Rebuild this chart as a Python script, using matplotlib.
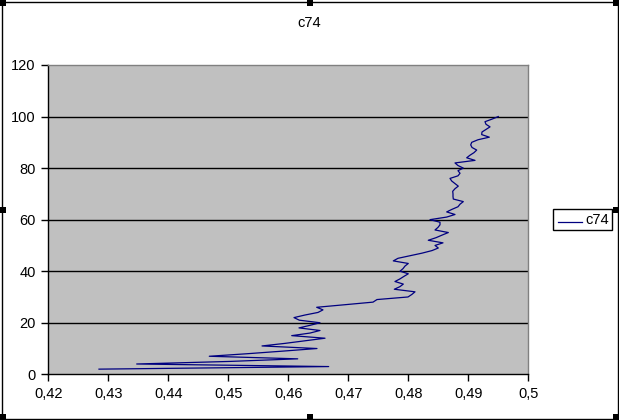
import matplotlib
matplotlib.use("Agg")
import matplotlib.pyplot as plt
from matplotlib.patches import Rectangle
from matplotlib.lines import Line2D

title = "c74"
series_name = "c74"
y_vals = list(range(2, 101))
x_vals = [
    0.42845, 0.46673, 0.43473, 0.4503, 0.46157, 0.44683, 0.45328, 0.45912, 0.46478, 0.45562,
    0.45945, 0.46278, 0.46612, 0.46057, 0.46362, 0.46528, 0.46178, 0.46362, 0.46528, 0.46183,
    0.46095, 0.46278, 0.46495, 0.46578, 0.46473, 0.46945, 0.47412, 0.47478, 0.47995, 0.4806,
    0.48112, 0.47767, 0.4786, 0.47917, 0.47778, 0.4786, 0.47928, 0.48, 0.47862, 0.47912,
    0.47945, 0.48, 0.4775, 0.47828, 0.48028, 0.48228, 0.48395, 0.485, 0.48445, 0.48578,
    0.48333, 0.48462, 0.48562, 0.48667, 0.48445, 0.48495, 0.48528, 0.48528, 0.48362, 0.4864,
    0.48778, 0.4864, 0.48728, 0.48828, 0.48862, 0.48917, 0.4875, 0.48745, 0.48745, 0.4874,
    0.48778, 0.48833, 0.48778, 0.48723, 0.48695, 0.48828, 0.48862, 0.48828, 0.48917, 0.48828,
    0.48778, 0.49112, 0.48973, 0.49028, 0.49095, 0.4914, 0.49062, 0.4904, 0.49057, 0.49162,
    0.4935, 0.49223, 0.49228, 0.49295, 0.49362, 0.49295, 0.49278, 0.49395, 0.495,
]
x_ticks = [0.42, 0.43, 0.44, 0.45, 0.46, 0.47, 0.48, 0.49, 0.5]
x_tick_labels = ["0,42", "0,43", "0,44", "0,45", "0,46", "0,47", "0,48", "0,49", "0,5"]
y_ticks = [0, 20, 40, 60, 80, 100, 120]

plt.rcParams['font.family'] = ['Liberation Sans', 'DejaVu Sans']

W, H = 619, 420
fig = plt.figure(figsize=(W / 100, H / 100), dpi=100)
fig.patch.set_facecolor("white")

L, R, T, B = 48.3, 528.3, 65, 374.3
ax = fig.add_axes([L / W, (H - B) / H, (R - L) / W, (B - T) / H])
ax.set_facecolor("#C0C0C0")
ax.plot(x_vals, y_vals, color="#000080", linewidth=0.9, zorder=3)
ax.set_xlim(0.42, 0.5)
ax.set_ylim(0, 120)
ax.set_xticks(x_ticks)
ax.set_xticklabels(x_tick_labels)
ax.set_yticks(y_ticks)
for v in y_ticks[1:-1]:
    ax.axhline(v, color="black", linewidth=1.0, zorder=2)
for s in ["top", "right"]:
    ax.spines[s].set_color("#808080")
    ax.spines[s].set_linewidth(1.0)
for s in ["left", "bottom"]:
    ax.spines[s].set_color("black")
    ax.spines[s].set_linewidth(1.0)
ax.tick_params(axis="both", direction="out", length=5, width=1, color="black",
               labelsize=10.5, pad=4)

fig.text(309 / W, 1 - 23 / H, title, ha="center", va="center", fontsize=10.5)

# legend box
lx0, lx1, ly0, ly1 = 553.3, 611.7, 209.3, 230
fig.patches.append(Rectangle((lx0 / W, 1 - ly1 / H), (lx1 - lx0) / W, (ly1 - ly0) / H,
                             transform=fig.transFigure, facecolor="white",
                             edgecolor="black", linewidth=1.0))
fig.lines.append(Line2D([558 / W, 582 / W], [1 - 221.5 / H, 1 - 221.5 / H],
                        transform=fig.transFigure, color="#000080", linewidth=0.9))
fig.text(585 / W, 1 - 220 / H, series_name, ha="left", va="center", fontsize=10.5)

# chart border and selection handles
fig.patches.append(Rectangle((1.5 / W, 1.5 / H), (W - 3) / W, (H - 3) / H,
                             transform=fig.transFigure, facecolor="none",
                             edgecolor="black", linewidth=1.0))
hs = 6
for hx in [0, (W - hs) / 2, W - hs]:
    for hy in [0, (H - hs) / 2, H - hs]:
        if hx == (W - hs) / 2 and hy == (H - hs) / 2:
            continue
        fig.patches.append(Rectangle((hx / W, hy / H), hs / W, hs / H,
                                     transform=fig.transFigure, facecolor="black",
                                     edgecolor="none"))

fig.savefig("out.png", dpi=100)
